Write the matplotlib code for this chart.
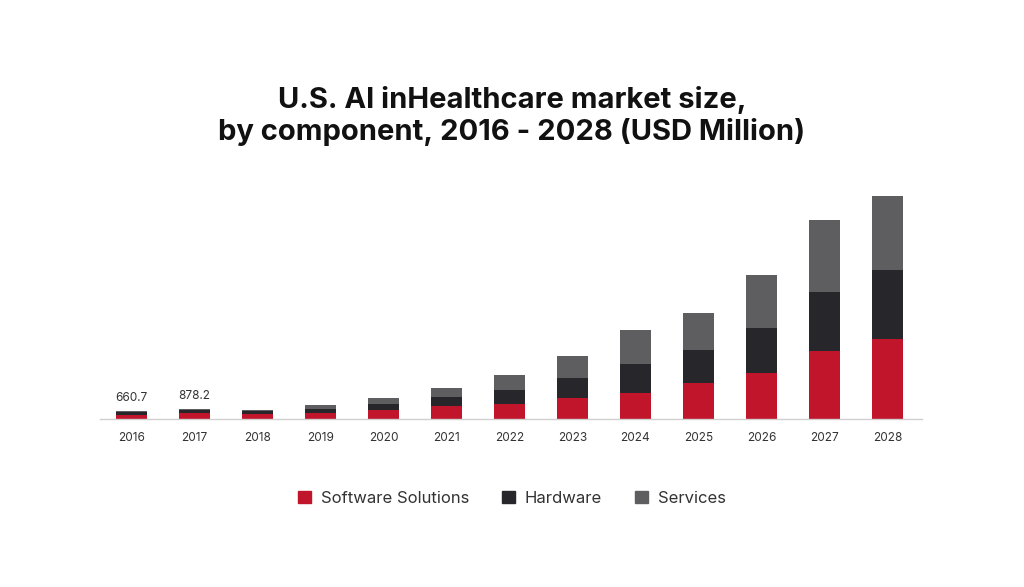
import matplotlib.pyplot as plt
from matplotlib.patches import Patch

plt.rcParams['font.family'] = ['Inter', 'DejaVu Sans']

years = ['2016', '2017', '2018', '2019', '2020', '2021', '2022',
         '2023', '2024', '2025', '2026', '2027', '2028']
software = [350, 460, 380, 530, 730, 1060, 1285, 1820, 2290, 3170, 3990, 5950, 7005]
hardware = [220, 300, 250, 350, 555, 820, 1205, 1760, 2525, 2905, 3985, 5225, 6105]
services = [90.7, 118.2, 90, 350, 555, 820, 1320, 1900, 2990, 3255, 4700, 6300, 6510]
labels = {0: '660.7', 1: '878.2'}

c_soft = '#c1152b'
c_hard = '#27272b'
c_serv = '#5e5e60'

fig = plt.figure(figsize=(10.24, 5.87), dpi=100)
ax = fig.add_axes([0.0977, 0.287, 0.8027, 0.4063])

x = range(len(years))
w = 0.5
bot2 = [a + b for a, b in zip(software, hardware)]
ax.bar(x, software, w, color=c_soft)
ax.bar(x, hardware, w, bottom=software, color=c_hard)
ax.bar(x, services, w, bottom=bot2, color=c_serv)

for i, txt in labels.items():
    tot = software[i] + hardware[i] + services[i]
    ax.annotate(txt, (i, tot), xytext=(0, 5), textcoords='offset points',
                ha='center', va='bottom', fontsize=8.5, color='#333333')

ax.set_xlim(-0.5, 12.55)
ax.set_ylim(0, 21000)
ax.set_xticks(list(x))
ax.set_xticklabels(years, fontsize=8.5, color='#333333')
ax.tick_params(axis='x', length=0, pad=10)
ax.set_yticks([])
for s in ['top', 'right', 'left']:
    ax.spines[s].set_visible(False)
ax.spines['bottom'].set_color('#d0d0d0')
ax.spines['bottom'].set_linewidth(1)

fig.text(0.5, 0.802, 'U.S. AI inHealthcare market size,\nby component, 2016 - 2028 (USD Million)',
         ha='center', va='center', fontsize=21, fontweight='bold',
         color='#111111', linespacing=1.2)

handles = [Patch(color=c_soft, label='Software Solutions'),
           Patch(color=c_hard, label='Hardware'),
           Patch(color=c_serv, label='Services')]
fig.legend(handles=handles, loc='center', bbox_to_anchor=(0.5, 0.151), ncol=3,
           frameon=False, fontsize=12, handlelength=0.75, handleheight=0.75,
           handletextpad=0.6, columnspacing=2.0, labelcolor='#333333')

fig.savefig('out.png', dpi=100, facecolor='white')
